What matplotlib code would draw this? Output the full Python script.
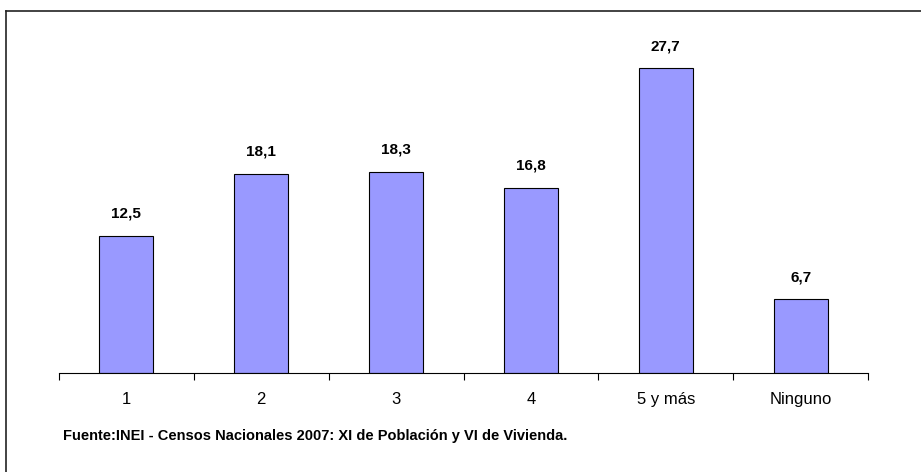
import numpy as np
import matplotlib.pyplot as plt
from matplotlib.lines import Line2D

plt.rcParams['font.family'] = ['Liberation Sans Narrow', 'Liberation Sans', 'DejaVu Sans']

# data
categories = ['1', '2', '3', '4', '5 y más', 'Ninguno']
values = [12.5, 18.1, 18.3, 16.8, 27.7, 6.7]
labels = ['12,5', '18,1', '18,3', '16,8', '27,7', '6,7']
source = 'Fuente:INEI - Censos Nacionales 2007: XI de Población y VI de Vivienda.'

W, H = 921, 472
fig = plt.figure(figsize=(W / 100, H / 100), dpi=100)
# axes in pixel terms: x 59..868, baseline y=373, top at y=43 (ylim 0..30)
ax = fig.add_axes([59 / W, 1 - 373 / H, (868 - 59) / W, (373 - 43) / H])

x = np.arange(len(categories))
ax.bar(x, values, width=0.4, color='#9999ff', edgecolor='black', linewidth=0.8)
for xi, v, lab in zip(x, values, labels):
    ax.annotate(lab, (xi, v), xytext=(0, 11), textcoords='offset points',
                ha='center', va='bottom', fontsize=11, fontweight='bold')

ax.set_xlim(-0.5, len(categories) - 0.5)
ax.set_ylim(0, 30)
for s in ['top', 'right', 'left']:
    ax.spines[s].set_visible(False)
ax.spines['bottom'].set_linewidth(0.8)
ax.set_yticks([])
ax.set_xticks(np.arange(len(categories) + 1) - 0.5, minor=False)
ax.set_xticklabels([])
ax.tick_params(axis='x', direction='out', length=5, width=0.8)
ax.set_xticks(x, minor=True)
ax.set_xticklabels(categories, minor=True, fontsize=12)
ax.tick_params(axis='x', which='minor', length=0, pad=14)

fig.text(63 / W, 1 - 436 / H, source, fontsize=10.5, fontweight='bold',
         ha='left', va='center')

# partial outer frame (top and left)
fig.add_artist(Line2D([6 / W, 1], [1 - 11 / H, 1 - 11 / H], color='#222222', lw=1.2))
fig.add_artist(Line2D([6 / W, 6 / W], [0, 1 - 11 / H], color='#222222', lw=1.2))

fig.savefig('out.png', dpi=100)
